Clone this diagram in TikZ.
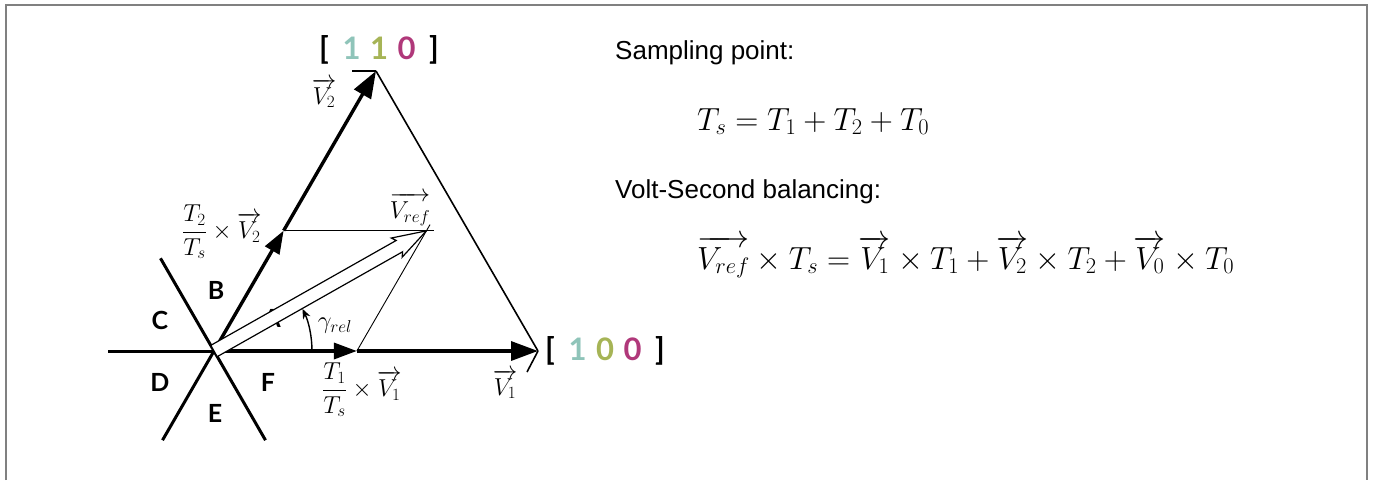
\RequirePackage{fix-cm}
\documentclass[tikz,border=0pt]{standalone}
\usepackage{amsmath}
\usepackage{fontspec}
\setmainfont{Liberation Sans}
\newfontfamily\labfont{Lato}
\usetikzlibrary{arrows.meta,calc}
\definecolor{cteal}{RGB}{143,196,185}
\definecolor{colive}{RGB}{166,180,86}
\definecolor{cmag}{RGB}{176,56,122}
\definecolor{framegray}{RGB}{128,128,128}
\begin{document}
\begin{tikzpicture}[x=1pt,y=1pt,
  hexline/.style={line width=3pt},
  vecline/.style={line width=3.4pt},
  thinline/.style={line width=0.9pt},
  sideline/.style={line width=1.6pt},
  midtip/.style={-{Triangle[length=23pt,width=16pt]}},
  endtip/.style={-{Triangle[length=27pt,width=19pt]}},
  sector/.style={font=\labfont\bfseries\fontsize{25}{30}\selectfont, inner sep=0pt},
  vlabel/.style={font=\fontsize{24.5}{28}\selectfont, inner sep=0pt},
  state/.style={font=\labfont\bfseries\fontsize{31}{36}\selectfont, inner sep=0pt},
  bodytext/.style={font=\fontsize{26}{31}\selectfont, inner sep=0pt, anchor=base west},
  eqtext/.style={font=\fontsize{32}{38}\selectfont, inner sep=0pt, anchor=base west}]
\useasboundingbox (0,0) rectangle (1373,-480);
\draw[framegray, line width=2.5pt] (6,-480) -- (6,-5) -- (1367,-5) -- (1367,-480);

% key points
\coordinate (O) at (214,-351);
\coordinate (V1) at (538,-351);
\coordinate (V2) at (376,-71);
\coordinate (T1) at ($(O)!0.441!(V1)$);
\coordinate (T2) at ($(O)!0.43!(V2)$);
\coordinate (R) at ($(T1)+(T2)-(O)$);
\coordinate (Rh) at ($(R)+(7,0)$);
\coordinate (Rx) at ($(T1)!1.05!(R)$);
\coordinate (H1) at (160.5,-258.3);
\coordinate (H2) at (265.5,-440.2);
\coordinate (H3) at (162.5,-440.2);
\coordinate (H4) at (108,-351);
\coordinate (S1) at ($(V2)+(-24,0)$);
\coordinate (S2) at ($(V1)+(-11,-21)$);

% construction lines
\draw[thinline] (T2) -- (Rh);
\draw[thinline] (T1) -- (Rx);
\draw[sideline] (V2) -- (V1);
\draw[sideline] (V2) -- (S1);
\draw[sideline] (V1) -- (S2);

% sector lines
\draw[hexline] (H1) -- (H2);
\draw[hexline] (H3) -- (O);
\draw[hexline] (H4) -- (O);

% active vectors
\draw[vecline, midtip] (O) -- (T1);
\draw[vecline, endtip] (T1) -- (V1);
\draw[vecline, midtip] (O) -- (T2);
\draw[vecline, endtip] (T2) -- (V2);

% sector letters
\node[sector] (lA) at (272,-318) {A};
\node[sector] (lB) at (216,-290) {B};
\node[sector] (lC) at (160,-320) {C};
\node[sector] (lD) at (160,-382) {D};
\node[sector] (lE) at (215,-413) {E};
\node[sector] (lF) at (268,-382) {F};

% reference vector (open arrow)
\begin{scope}[shift={(O)}, rotate=29.5]
  \draw[line width=1.2pt, fill=white] (0,6.5) -- (213,6.5) -- (210,11) -- (244,0)
    -- (210,-11) -- (213,-6.5) -- (0,-6.5) -- cycle;
\end{scope}

% angle
\coordinate (G0) at ($(O)+(98,0)$);
\draw[line width=1.4pt, -{Stealth[length=10pt,width=8pt]}] (G0) arc[start angle=0, end angle=25.5, radius=98];

% vector labels
\node[vlabel] (lV2) at (324,-93) {$\overrightarrow{V_2}$};
\node[vlabel] (lV1) at (505,-384) {$\overrightarrow{V_1}$};
\node[vlabel] (lVr) at (410,-209) {$\overrightarrow{V_{ref}}$};
\node[vlabel] (lg) at (335,-326) {$\gamma_{rel}$};
\node[vlabel, anchor=west] (lT2) at (182,-232) {$\dfrac{T_2}{T_s}\times\overrightarrow{V_2}$};
\node[vlabel, anchor=west] (lT1) at (322,-390) {$\dfrac{T_1}{T_s}\times\overrightarrow{V_1}$};

% switching states
\node[state] (s110) at (379,-49.5) {\makebox[27.5pt]{[}\makebox[27.5pt]{\textcolor{cteal}{1}}\makebox[27.5pt]{\textcolor{colive}{1}}\makebox[27.5pt]{\textcolor{cmag}{0}}\makebox[27.5pt]{]}};
\node[state] (s100) at (605,-351) {\makebox[27.5pt]{[}\makebox[27.5pt]{\textcolor{cteal}{1}}\makebox[27.5pt]{\textcolor{colive}{0}}\makebox[27.5pt]{\textcolor{cmag}{0}}\makebox[27.5pt]{]}};

% right-hand text
\node[bodytext] (t1) at (615,-59) {Sampling point:};
\node[eqtext] (e1) at (697,-130) {$T_s=T_1+T_2+T_0$};
\node[bodytext] (t2) at (615,-198) {Volt-Second balancing:};
\node[eqtext] (e2) at (697,-269) {$\overrightarrow{V_{ref}}\times T_s=\overrightarrow{V_1}\times T_1+\overrightarrow{V_2}\times T_2+\overrightarrow{V_0}\times T_0$};
\end{tikzpicture}
\end{document}
